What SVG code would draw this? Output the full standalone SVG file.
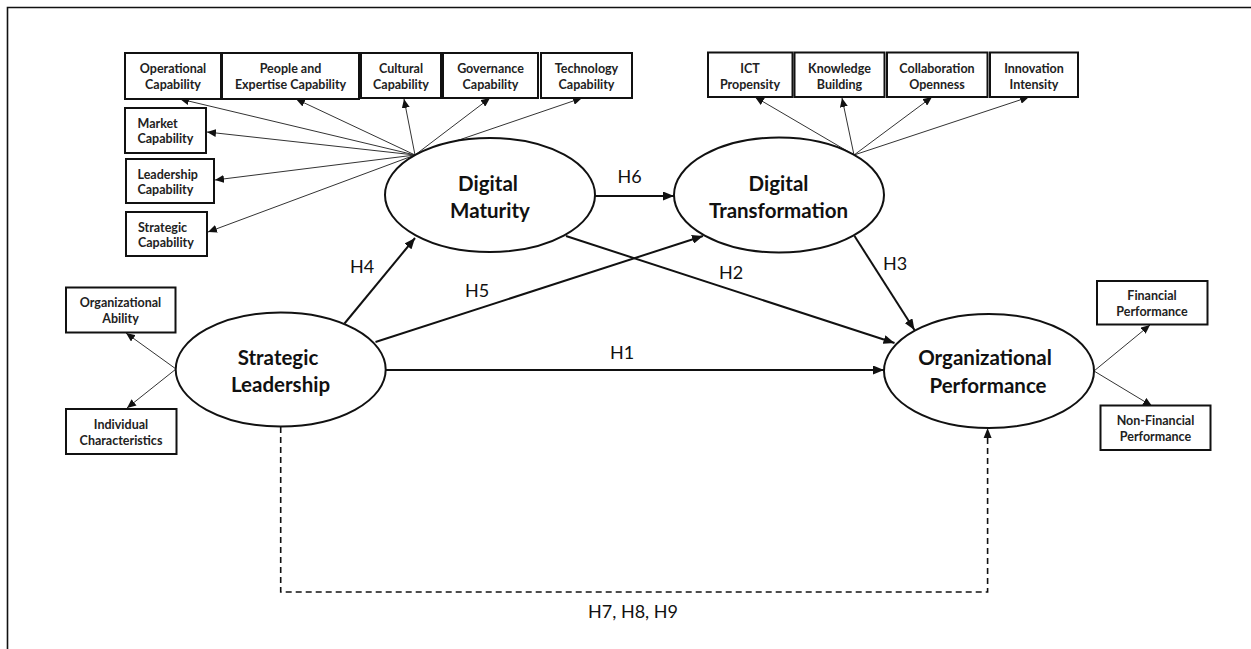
<svg xmlns="http://www.w3.org/2000/svg" width="1251" height="649" viewBox="0 0 1251 649">
<style>
.box{fill:#fff;stroke:#111;stroke-width:2}
.ell{fill:#fff;stroke:#111;stroke-width:2}
.bt{font-family:"Lato","Liberation Sans",sans-serif;font-weight:bold;font-size:12.5px;fill:#222}
.et{font-family:"Lato","Liberation Sans",sans-serif;font-weight:bold;font-size:20.5px;fill:#111;text-anchor:middle}
.ht{font-family:"Lato","Liberation Sans",sans-serif;font-size:18px;fill:#111;text-anchor:middle}
.c{text-anchor:middle}
.thin{stroke:#333;stroke-width:1;fill:none;marker-end:url(#sa)}
.main{stroke:#111;stroke-width:2;fill:none;marker-end:url(#ma)}
.dash{stroke:#111;stroke-width:1.6;fill:none;stroke-dasharray:6 4}
</style>
<defs>
<marker id="sa" markerUnits="userSpaceOnUse" markerWidth="9" markerHeight="8" refX="9" refY="4" orient="auto"><path d="M0,0 L9,4 L0,8 z" fill="#111"/></marker>
<marker id="ma" markerUnits="userSpaceOnUse" markerWidth="11" markerHeight="9" refX="11" refY="4.5" orient="auto"><path d="M0,0 L11,4.5 L0,9 z" fill="#111"/></marker>
</defs>
<rect width="1251" height="649" fill="#fff"/>
<path d="M7.5,649 V7.5 H1251" fill="none" stroke="#111" stroke-width="1.6"/>

<g id="connectors">
  <line class="thin" x1="415" y1="155" x2="180" y2="99"/>
  <line class="thin" x1="415" y1="155" x2="296" y2="99"/>
  <line class="thin" x1="415" y1="155" x2="404" y2="99"/>
  <line class="thin" x1="415" y1="155" x2="490" y2="98"/>
  <line class="thin" x1="415" y1="155" x2="582" y2="98"/>
  <line class="thin" x1="415" y1="155" x2="207" y2="132"/>
  <line class="thin" x1="415" y1="155" x2="215" y2="180"/>
  <line class="thin" x1="415" y1="155" x2="208" y2="232"/>
  <line class="thin" x1="854" y1="155" x2="755" y2="97"/>
  <line class="thin" x1="854" y1="155" x2="842" y2="98"/>
  <line class="thin" x1="854" y1="155" x2="932" y2="97"/>
  <line class="thin" x1="854" y1="155" x2="1029" y2="97"/>
  <line class="thin" x1="176" y1="369" x2="126" y2="333"/>
  <line class="thin" x1="176" y1="369" x2="127" y2="408"/>
  <line class="thin" x1="1094" y1="371" x2="1150" y2="325"/>
  <line class="thin" x1="1094" y1="371" x2="1152" y2="406"/>
  <line class="main" x1="595" y1="196" x2="674" y2="196"/>
  <line class="main" x1="386" y1="370" x2="884" y2="370"/>
  <line class="main" x1="344.5" y1="323.5" x2="415" y2="238"/>
  <line class="main" x1="375.5" y1="342" x2="703" y2="236"/>
  <line class="main" x1="566" y1="236" x2="894.5" y2="343"/>
  <line class="main" x1="854.5" y1="236" x2="914.5" y2="330"/>
  <path class="dash" d="M280.7,427 V592 H987.6 V438"/>
  <path d="M983.6,438 L987.6,428 L991.6,438 z" fill="#111"/>
  <text class="ht" x="629.5" y="183">H6</text>
  <text class="ht" x="622" y="359">H1</text>
  <text class="ht" x="362" y="273">H4</text>
  <text class="ht" x="477" y="297">H5</text>
  <text class="ht" x="731" y="279">H2</text>
  <text class="ht" x="895" y="270">H3</text>
  <text class="ht" x="633" y="618">H7, H8, H9</text>
</g>

<g id="operational"><rect class="box" x="125" y="53" width="96" height="46"/><text class="bt c" x="173" y="73">Operational</text><text class="bt c" x="173" y="89">Capability</text></g>
<g id="people"><rect class="box" x="222" y="53" width="137" height="46"/><text class="bt c" x="290.5" y="73">People and</text><text class="bt c" x="290.5" y="89">Expertise Capability</text></g>
<g id="cultural"><rect class="box" x="361" y="53" width="80" height="45"/><text class="bt c" x="401" y="73">Cultural</text><text class="bt c" x="401" y="89">Capability</text></g>
<g id="governance"><rect class="box" x="443" y="53" width="95" height="45"/><text class="bt c" x="490.5" y="73">Governance</text><text class="bt c" x="490.5" y="89">Capability</text></g>
<g id="technology"><rect class="box" x="541" y="53" width="91" height="45"/><text class="bt c" x="586.5" y="73">Technology</text><text class="bt c" x="586.5" y="89">Capability</text></g>
<g id="market"><rect class="box" x="125" y="108" width="81" height="45"/><text class="bt" x="137.5" y="127.5">Market</text><text class="bt" x="137.5" y="143">Capability</text></g>
<g id="leadership"><rect class="box" x="126" y="159" width="88" height="44"/><text class="bt" x="137.5" y="178.5">Leadership</text><text class="bt" x="137.5" y="194">Capability</text></g>
<g id="strategic"><rect class="box" x="126" y="212" width="81" height="44"/><text class="bt" x="138" y="231.5">Strategic</text><text class="bt" x="138" y="247">Capability</text></g>

<g id="ict"><rect class="box" x="708" y="52.5" width="84.5" height="44.5"/><text class="bt c" x="750" y="72.5">ICT</text><text class="bt c" x="750" y="88.5">Propensity</text></g>
<g id="knowledge"><rect class="box" x="794.5" y="52.5" width="90" height="44.5"/><text class="bt c" x="839.5" y="72.5">Knowledge</text><text class="bt c" x="839.5" y="88.5">Building</text></g>
<g id="collaboration"><rect class="box" x="887" y="52.5" width="100.5" height="44.5"/><text class="bt c" x="937" y="72.5">Collaboration</text><text class="bt c" x="937" y="88.5">Openness</text></g>
<g id="innovation"><rect class="box" x="990" y="52.5" width="88" height="44.5"/><text class="bt c" x="1034" y="72.5">Innovation</text><text class="bt c" x="1034" y="88.5">Intensity</text></g>

<g id="orgability"><rect class="box" x="66" y="287.5" width="109.5" height="45"/><text class="bt c" x="120.5" y="307">Organizational</text><text class="bt c" x="120.5" y="323">Ability</text></g>
<g id="individual"><rect class="box" x="66" y="409" width="110.5" height="45"/><text class="bt c" x="121" y="428.5">Individual</text><text class="bt c" x="121" y="444.5">Characteristics</text></g>
<g id="financial"><rect class="box" x="1097" y="281" width="110.5" height="43.5"/><text class="bt c" x="1152" y="300">Financial</text><text class="bt c" x="1152" y="316">Performance</text></g>
<g id="nonfinancial"><rect class="box" x="1100.5" y="405.5" width="110" height="44.5"/><text class="bt c" x="1155.5" y="425">Non-Financial</text><text class="bt c" x="1155.5" y="441">Performance</text></g>

<g id="digital-maturity"><ellipse class="ell" cx="490" cy="195" rx="105" ry="57"/><text class="et" x="488" y="191">Digital</text><text class="et" x="490" y="217.5">Maturity</text></g>
<g id="digital-transformation"><ellipse class="ell" cx="779" cy="195" rx="105" ry="57.5"/><text class="et" x="778.5" y="191">Digital</text><text class="et" x="778.5" y="217.5">Transformation</text></g>
<g id="strategic-leadership"><ellipse class="ell" cx="280.7" cy="369.5" rx="105" ry="57"/><text class="et" x="278" y="365">Strategic</text><text class="et" x="280.5" y="391.5">Leadership</text></g>
<g id="organizational-performance"><ellipse class="ell" cx="989" cy="371" rx="105" ry="57"/><text class="et" x="985" y="365">Organizational</text><text class="et" x="988" y="392.5">Performance</text></g>
</svg>
